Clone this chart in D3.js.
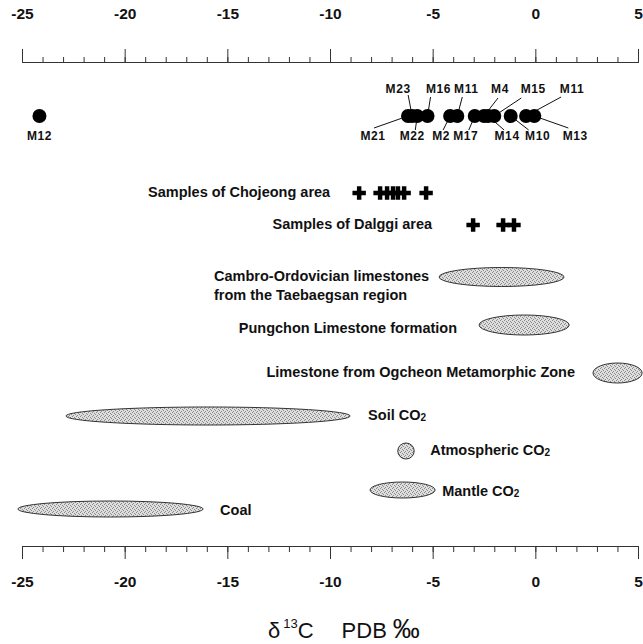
<!DOCTYPE html>
<html>
<head>
<meta charset="utf-8">
<script src="https://cdn.jsdelivr.net/npm/d3@7"></script>
<style>
  body { margin: 0; background: #fff; }
  text { font-family: "Liberation Sans", Arial, sans-serif; fill: #111; }
</style>
</head>
<body>
<div id="root"></div>
<script>
// δ13C values (PDB ‰)
const pointNames = ["M12", "M21", "M23", "M22", "M16", "M2", "M11", "M17", "M4", "M14", "M15", "M10", "M11", "M13"];
const pointValues = [-24.15, -6.2, -6.0, -5.75, -5.25, -4.15, -3.8, -2.95, -2.5, -2.3, -2.0, -1.2, -0.45, -0.05];

const chojeongValues = [-8.58, -7.56, -7.22, -6.93, -6.69, -6.39, -5.32];
const dalggiValues = [-3.03, -1.57, -1.04];

const rangeNames = ["Cambro-Ordovician", "Pungchon", "Ogcheon", "Soil", "Atmospheric", "Mantle", "Coal"];
const rangeLow = [-4.69, -2.74, 2.81, -22.86, -6.7, -8.05, -25.2];
const rangeHigh = [1.4, 1.65, 5.2, -9.02, -5.9, -4.88, -16.18];

const majorTicks = [-25, -20, -15, -10, -5, 0, 5];

document.addEventListener("DOMContentLoaded", () => {
    const width = 643, height = 644;

    const svg = d3.select("#root").append("svg")
        .attr("width", width)
        .attr("height", height);

    const x = d3.scaleLinear().domain([-25, 5]).range([22, 638]);

    // stipple fill for the ranges
    const defs = svg.append("defs");
    const pat = defs.append("pattern")
        .attr("id", "stipple")
        .attr("width", 4).attr("height", 4)
        .attr("patternUnits", "userSpaceOnUse");
    pat.append("rect").attr("width", 4).attr("height", 4).attr("fill", "#dedede");
    [[0, 0], [2, 1], [1, 3], [3, 2]].forEach(p => {
        pat.append("rect").attr("x", p[0]).attr("y", p[1]).attr("width", 1).attr("height", 1).attr("fill", "#8a8a8a");
    });

    // axes
    const minor = d3.range(-25, 6, 1);
    const topY = 62, botY = 546;
    const fmt = d => String(d);

    const axisStyle = g => {
        g.selectAll("path, line").attr("stroke", "#333");
        g.selectAll("text").style("font-size", "15.5px").style("font-weight", "bold").attr("fill", "#111");
    };

    svg.append("g")
        .attr("transform", `translate(0,${topY})`)
        .call(d3.axisTop(x).tickValues(minor).tickSize(5).tickFormat(""))
        .call(axisStyle);
    svg.append("g")
        .attr("transform", `translate(0,${topY})`)
        .call(d3.axisTop(x).tickValues(majorTicks).tickSize(13).tickSizeOuter(13).tickPadding(30).tickFormat(fmt))
        .call(axisStyle);

    svg.append("g")
        .attr("transform", `translate(0,${botY})`)
        .call(d3.axisBottom(x).tickValues(minor).tickSize(6).tickFormat(""))
        .call(axisStyle);
    svg.append("g")
        .attr("transform", `translate(0,${botY})`)
        .call(d3.axisBottom(x).tickValues(majorTicks).tickSize(13).tickSizeOuter(13).tickPadding(17).tickFormat(fmt))
        .call(axisStyle);

    svg.selectAll(".domain").attr("fill", "none");

    // sample points with leader lines
    const pointY = 116;
    // [label dx, label dy, leader start dx, leader start dy]
    const labelLayout = [
        [0, 21, null, null],
        [-35, 21, -34, 12],
        [-14, -26, -4, -21],
        [-5, 21, -2, 14],
        [11, -26, 3, -19],
        [-9, 21, -7, 14],
        [9, -26, 5, -19],
        [-9, 21, -6, 14],
        [16, -26, 14, -18],
        [19, 21, 16, 14],
        [39, -26, 27, -18],
        [27, 21, 18, 14],
        [46, -26, 35, -19],
        [41, 21, 34, 12]
    ];

    const pts = pointValues.map((v, i) => ({ name: pointNames[i], v: v, lay: labelLayout[i] }));

    svg.append("g").selectAll("line")
        .data(pts.filter(d => d.lay[2] !== null))
        .join("line")
        .attr("x1", d => x(d.v) + d.lay[2])
        .attr("y1", d => pointY + d.lay[3])
        .attr("x2", d => x(d.v))
        .attr("y2", pointY)
        .attr("stroke", "#111")
        .attr("stroke-width", 1);

    svg.append("g").selectAll("circle")
        .data(pts)
        .join("circle")
        .attr("cx", d => x(d.v))
        .attr("cy", pointY)
        .attr("r", 7)
        .attr("fill", "#000");

    svg.append("g").selectAll("text")
        .data(pts)
        .join("text")
        .attr("x", d => x(d.v) + d.lay[0])
        .attr("y", d => pointY + d.lay[1])
        .attr("text-anchor", "middle")
        .attr("dominant-baseline", "middle")
        .style("font-size", "12px")
        .style("font-weight", "bold")
        .style("letter-spacing", "0.6px")
        .text(d => d.name);

    // crosses
    const cross = d3.symbol().type(d3.symbolCross).size(100);
    const crossRows = [
        { label: "Samples of Chojeong area", vals: chojeongValues, y: 193, gap: 29 },
        { label: "Samples of Dalggi area", vals: dalggiValues, y: 225, gap: 41 }
    ];
    crossRows.forEach(r => {
        svg.append("g").selectAll("path")
            .data(r.vals)
            .join("path")
            .attr("d", cross)
            .attr("transform", d => `translate(${x(d)},${r.y})`)
            .attr("fill", "#000");
        svg.append("text")
            .attr("x", x(d3.min(r.vals)) - r.gap)
            .attr("y", r.y)
            .attr("text-anchor", "end")
            .attr("dominant-baseline", "middle")
            .style("font-size", "14.5px")
            .style("font-weight", "bold")
            .text(r.label);
    });

    // ranges drawn as ellipses
    const rangeRows = [
        { y: 277, ry: 9.5, lines: ["Cambro-Ordovician limestones", "from the Taebaegsan region"], side: "left", off: 225, ty: 0, anchor: "start" },
        { y: 325, ry: 10, lines: ["Pungchon Limestone formation"], side: "left", off: 22, ty: 4, anchor: "end" },
        { y: 373, ry: 10, lines: ["Limestone from Ogcheon Metamorphic Zone"], side: "left", off: 18, ty: 0, anchor: "end" },
        { y: 416, ry: 9, lines: ["Soil CO|2"], side: "right", off: 18, ty: 0, anchor: "start" },
        { y: 451, ry: 8, lines: ["Atmospheric CO|2"], side: "right", off: 16, ty: 0, anchor: "start" },
        { y: 490, ry: 8, lines: ["Mantle CO|2"], side: "right", off: 7, ty: 2, anchor: "start" },
        { y: 509, ry: 8, lines: ["Coal"], side: "right", off: 17, ty: 2, anchor: "start" }
    ];

    const ranges = rangeNames.map((n, i) => Object.assign({ name: n, lo: rangeLow[i], hi: rangeHigh[i] }, rangeRows[i]));

    svg.append("g").selectAll("ellipse")
        .data(ranges)
        .join("ellipse")
        .attr("cx", d => (x(d.lo) + x(d.hi)) / 2)
        .attr("cy", d => d.y)
        .attr("rx", d => (x(d.hi) - x(d.lo)) / 2)
        .attr("ry", d => d.ry)
        .attr("fill", "url(#stipple)")
        .attr("stroke", "#333")
        .attr("stroke-width", 1);

    ranges.forEach(d => {
        const tx = d.side === "left" ? x(d.lo) - d.off : x(d.hi) + d.off;
        d.lines.forEach((line, k) => {
            const t = svg.append("text")
                .attr("x", tx)
                .attr("y", d.y + d.ty + k * 19)
                .attr("text-anchor", d.anchor)
                .attr("dominant-baseline", "middle")
                .style("font-size", "14.5px")
                .style("font-weight", "bold");
            const parts = line.split("|");
            t.append("tspan").text(parts[0]);
            if (parts[1]) {
                t.append("tspan").attr("dy", 2).style("font-size", "10px").text(parts[1]);
            }
        });
    });

    // axis title
    const title = svg.append("text")
        .attr("x", 268)
        .attr("y", 638)
        .style("font-size", "22px");
    title.append("tspan").text("δ");
    title.append("tspan").attr("dx", 3).attr("dy", -10).style("font-size", "13px").text("13");
    title.append("tspan").attr("dy", 10).text("C");
    title.append("tspan").attr("dx", 28).text("PDB");
    title.append("tspan").attr("dx", 6).style("font-size", "27px").text("‰");
});
</script>
</body>
</html>
